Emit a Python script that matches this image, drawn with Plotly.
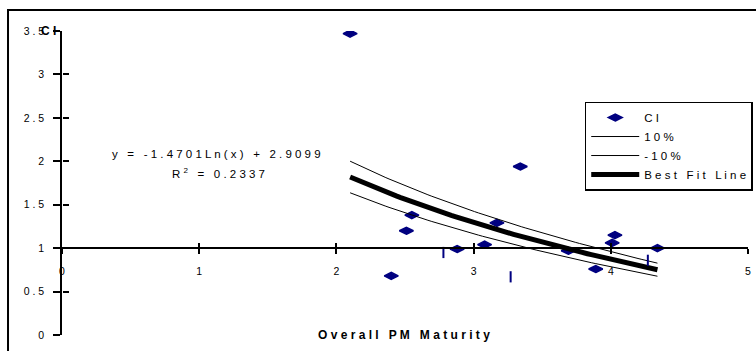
import numpy as np
import plotly.graph_objects as go

# ---- data ----
pm_maturity = [2.10, 2.40, 2.51, 2.55, 2.88, 3.08, 3.17, 3.34, 3.69, 3.89, 4.01, 4.03, 4.34]
ci_values = [3.47, 0.68, 1.20, 1.38, 0.99, 1.04, 1.29, 1.94, 0.97, 0.76, 1.06, 1.15, 1.00]
mark_x = [2.78, 3.27, 4.27]
mark_y = [0.95, 0.67, 0.86]
fit_slope = -1.4701
fit_intercept = 2.9099
fit_r2 = 0.2337
band_pct = 0.10
x_tick_vals = [0, 1, 2, 3, 4, 5]
x_tick_labels = ["0", "1", "2", "3", "4", "5"]
y_tick_vals = [0, 0.5, 1, 1.5, 2, 2.5, 3, 3.5]
y_tick_labels = ["0", "0.5", "1", "1.5", "2", "2.5", "3", "3.5"]


def spaced(s):
    return " ".join(s)


FONT = "Liberation Sans, Arial, sans-serif"
NAVY = "#000080"

fx = np.linspace(min(pm_maturity), max(pm_maturity), 80)
fy = fit_slope * np.log(fx) + fit_intercept

fig = go.Figure()
fig.add_trace(go.Scatter(
    x=pm_maturity, y=ci_values, mode="markers", name=spaced("CI"),
    marker=dict(symbol="diamond-wide", size=10, color=NAVY, line=dict(color=NAVY, width=1.5)),
))
fig.add_trace(go.Scatter(x=fx, y=fy * (1 + band_pct), mode="lines", name=spaced("10%"),
                         line=dict(color="black", width=1)))
fig.add_trace(go.Scatter(x=fx, y=fy * (1 - band_pct), mode="lines", name=spaced("-10%"),
                         line=dict(color="black", width=1)))
fig.add_trace(go.Scatter(x=fx, y=fy, mode="lines", name=spaced("Best Fit Line"),
                         line=dict(color="black", width=5)))
fig.add_trace(go.Scatter(
    x=mark_x, y=mark_y, mode="markers", showlegend=False, xaxis="x2", yaxis="y2",
    marker=dict(symbol="line-ns", size=8, color=NAVY, line=dict(color=NAVY, width=2)),
))

ax_common = dict(showgrid=False, zeroline=False, linecolor="black", tickcolor="black")
tick_font = dict(family=FONT, size=10.5, color="black")

fig.update_layout(
    width=756, height=351,
    margin=dict(l=62, r=8, t=31, b=16, pad=0, autoexpand=False),
    paper_bgcolor="white", plot_bgcolor="white",
    hovermode=False,
    xaxis=dict(range=[0, 5], anchor="free", position=1 / 3.5, showline=True, linewidth=1.5,
               ticks="outside", ticklen=5, tickwidth=1.5, tickvals=x_tick_vals,
               ticktext=x_tick_labels, tickfont=tick_font, ticklabelstandoff=9, **ax_common),
    xaxis2=dict(range=[0, 5], overlaying="x", anchor="free", position=1 / 3.5, showline=False,
                ticks="inside", ticklen=5, tickwidth=1.5, tickvals=x_tick_vals,
                showticklabels=False, **ax_common),
    yaxis=dict(range=[0, 3.5], showline=True, linewidth=1.5, ticks="outside", ticklen=7,
               tickwidth=1.5, tickvals=y_tick_vals,
               ticktext=[spaced(t) for t in y_tick_labels], tickfont=tick_font,
               ticklabelstandoff=7, **ax_common),
    yaxis2=dict(range=[0, 3.5], overlaying="y", anchor="free", position=0, showline=False,
                ticks="inside", ticklen=6, tickwidth=1.5, tickvals=y_tick_vals,
                showticklabels=False, **ax_common),
    legend=dict(x=0.762, y=0.768, xanchor="left", yanchor="top", bgcolor="white",
                bordercolor="black", borderwidth=1.5, itemwidth=48,
                font=dict(family=FONT, size=11.5, color="black")),
    font=dict(family=FONT, color="black"),
)

fig.add_annotation(xref="paper", yref="y", x=-0.006, y=3.5, xanchor="right", yanchor="middle",
                   text="<b>" + spaced("CI") + "</b>", showarrow=False,
                   font=dict(family=FONT, size=12, color="black"))
fig.add_annotation(xref="x", yref="y", x=2.493, y=0, xanchor="center", yanchor="middle",
                   text="<b>" + spaced("Overall PM Maturity") + "</b>", showarrow=False,
                   font=dict(family=FONT, size=12, color="black"))
fig.add_annotation(xref="x", yref="y", x=1.125, y=2.085, xanchor="center", yanchor="middle",
                   text=spaced(f"y = {fit_slope:.4f}Ln(x) + {fit_intercept:.4f}"), showarrow=False,
                   font=dict(family=FONT, size=11.5, color="black"))
fig.add_annotation(xref="x", yref="y", x=1.14, y=1.866, xanchor="center", yanchor="middle",
                   text="R <sup>2</sup>   =   " + spaced(f"{fit_r2:.4f}"), showarrow=False,
                   font=dict(family=FONT, size=11.5, color="black"))

fig.add_shape(type="rect", xref="paper", yref="paper", x0=-0.0787, x1=1.1, y0=-0.2, y1=1.069,
              line=dict(color="black", width=2), fillcolor="rgba(0,0,0,0)", layer="above")

fig.write_html("out.html")
